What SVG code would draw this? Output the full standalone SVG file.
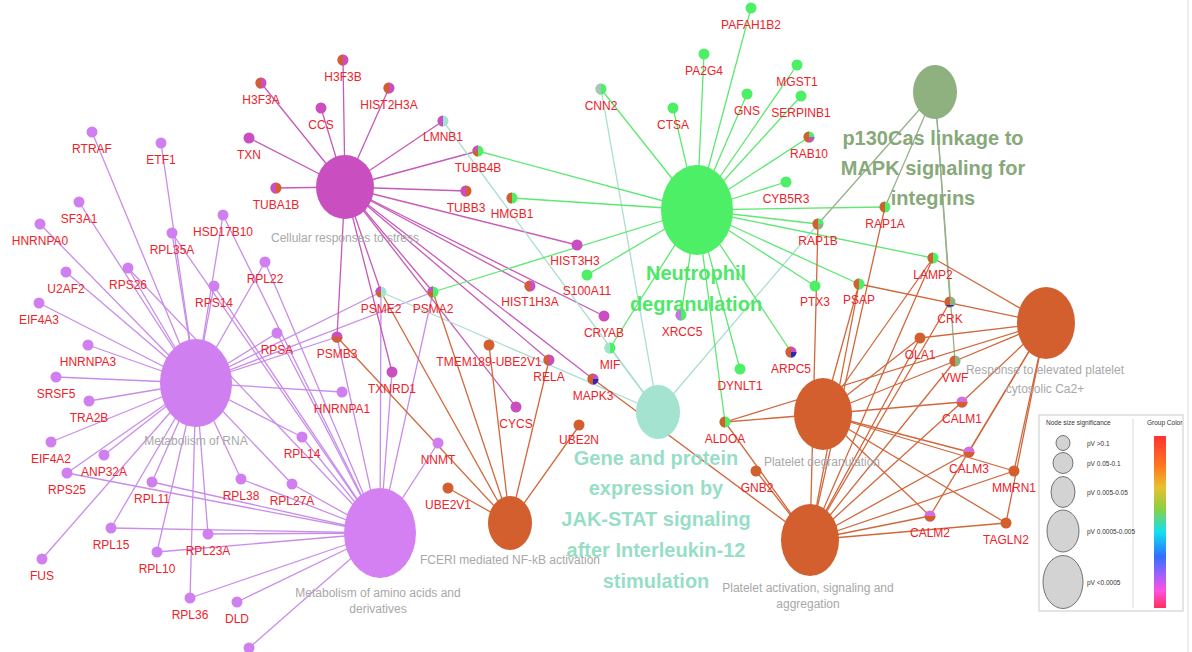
<svg xmlns="http://www.w3.org/2000/svg" width="1192" height="652" viewBox="0 0 1192 652">
<defs>
<linearGradient id="cbar" x1="0" y1="0" x2="0" y2="1">
<stop offset="0" stop-color="#ff3030"/><stop offset="0.18" stop-color="#ff7a20"/><stop offset="0.3" stop-color="#e8c030"/><stop offset="0.42" stop-color="#8ed040"/><stop offset="0.56" stop-color="#10e0f0"/><stop offset="0.7" stop-color="#3070ff"/><stop offset="0.8" stop-color="#9a60ff"/><stop offset="0.9" stop-color="#ff50e0"/><stop offset="1" stop-color="#ff3060"/>
</linearGradient>
</defs>
<style>
.e path{fill:none;stroke-width:1.3}
.cs path{stroke:#c55ab9}
.mr path{stroke:#c98de9}
.nd path{stroke:#5ee872}
.jk path{stroke:#a9ded1}
.pc path{stroke:#98b08b}
.or path{stroke:#d0683c}
.gn text{font-family:"Liberation Sans",Arial,sans-serif;font-size:12px;fill:#ee2229;text-anchor:middle}
.hl{font-family:"Liberation Sans",Arial,sans-serif;font-size:12px;fill:#a8a8a8;text-anchor:middle}
.big{font-family:"Liberation Sans",Arial,sans-serif;font-size:20px;font-weight:bold;text-anchor:middle}
.lg{font-family:"Liberation Sans",Arial,sans-serif;font-size:6.5px;fill:#333}
.M{fill:#c94fc0}.V{fill:#d07ff0}.G{fill:#4def66}.T{fill:#a3e3cf}.S{fill:#8fb07f}.O{fill:#d35f2e}.B{fill:#2a2ab8}.P{fill:#d36ee0}
</style>
<rect width="1192" height="652" fill="#ffffff"/>
<line x1="1188" y1="0" x2="1188" y2="652" stroke="#e6e6e6" stroke-width="1.5"/>

<g id="connectors" class="e">
<g class="mr">
<path d="M196 383L92 132"/><path d="M196 383L161 143"/><path d="M196 383L79 202"/><path d="M196 383L40 224"/><path d="M196 383L172 233"/><path d="M196 383L223 215"/><path d="M196 383L66 272"/><path d="M196 383L128 268"/><path d="M196 383L265 262"/><path d="M196 383L39 303"/><path d="M196 383L214 286"/><path d="M196 383L88 345"/><path d="M196 383L277 333"/><path d="M196 383L56 377"/><path d="M196 383L89 401"/><path d="M196 383L342 392"/><path d="M196 383L337 337"/><path d="M196 383L381 292"/><path d="M196 383L433 292"/><path d="M196 383L51 442"/><path d="M196 383L104 455"/><path d="M196 383L67 473"/><path d="M196 383L152 482"/><path d="M196 383L241 479"/><path d="M196 383L292 484"/><path d="M196 383L302 437"/><path d="M196 383L111 528"/><path d="M196 383L208 534"/><path d="M196 383L157 552"/><path d="M196 383L42 559"/><path d="M196 383L190 598"/>
<path d="M380 533L128 268"/><path d="M380 533L172 233"/><path d="M380 533L223 215"/><path d="M380 533L265 262"/><path d="M380 533L214 286"/><path d="M380 533L277 333"/><path d="M380 533L337 337"/><path d="M380 533L381 292"/><path d="M380 533L433 292"/><path d="M380 533L392 372"/><path d="M380 533L438 443"/><path d="M380 533L302 437"/><path d="M380 533L292 484"/><path d="M380 533L241 479"/><path d="M380 533L67 473"/><path d="M380 533L152 482"/><path d="M380 533L111 528"/><path d="M380 533L208 534"/><path d="M380 533L157 552"/><path d="M380 533L190 598"/><path d="M380 533L237 602"/><path d="M380 533L249 648"/>
</g>
<g class="cs">
<path d="M345 187L261 83"/><path d="M345 187L343 60"/><path d="M345 187L389 88"/><path d="M345 187L321 108"/><path d="M345 187L249 138"/><path d="M345 187L443 121"/><path d="M345 187L276 188"/><path d="M345 187L478 151"/><path d="M345 187L466 191"/><path d="M345 187L577 245"/><path d="M345 187L530 286"/><path d="M345 187L381 292"/><path d="M345 187L433 292"/><path d="M345 187L337 337"/><path d="M345 187L392 372"/><path d="M345 187L549 360"/><path d="M345 187L516 407"/><path d="M345 187L593 379"/><path d="M345 187L604 316"/>
</g>
<g class="jk">
<path d="M658 412L601 89"/><path d="M658 412L443 121"/><path d="M658 412L381 292"/><path d="M658 412L610 348"/><path d="M658 412L818 224"/>
</g>
<g class="nd">
<path d="M697 210L751 8"/><path d="M697 210L704 54"/><path d="M697 210L601 89"/><path d="M697 210L673 108"/><path d="M697 210L747 94"/><path d="M697 210L797 65"/><path d="M697 210L801 96"/><path d="M697 210L809 137"/><path d="M697 210L786 182"/><path d="M697 210L885 207"/><path d="M697 210L818 224"/><path d="M697 210L815 286"/><path d="M697 210L859 284"/><path d="M697 210L933 258"/><path d="M697 210L791 352"/><path d="M697 210L740 369"/><path d="M697 210L725 422"/><path d="M697 210L681 315"/><path d="M697 210L610 348"/><path d="M697 210L587 275"/><path d="M697 210L512 198"/><path d="M697 210L478 151"/><path d="M697 210L433 292"/>
</g>
<g class="pc">
<path d="M935 92L885 207"/><path d="M935 92L818 224"/><path d="M935 92L950 302"/><path d="M935 92L955 361"/>
</g>
<g class="or">
<path d="M510 523L337 337"/><path d="M510 523L381 292"/><path d="M510 523L433 292"/><path d="M510 523L489 345"/><path d="M510 523L549 360"/><path d="M510 523L579 426"/><path d="M510 523L448 488"/>
<path d="M823 414L725 422"/><path d="M823 414L859 284"/><path d="M823 414L933 258"/><path d="M823 414L920 338"/><path d="M823 414L955 361"/><path d="M823 414L962 402"/><path d="M823 414L930 516"/><path d="M823 414L969 452"/><path d="M823 414L1014 471"/><path d="M823 414L1006 523"/>
<path d="M810 540L756 471"/><path d="M810 540L725 422"/><path d="M810 540L593 379"/><path d="M810 540L885 207"/><path d="M810 540L818 224"/><path d="M810 540L950 302"/><path d="M810 540L955 361"/><path d="M810 540L962 402"/><path d="M810 540L930 516"/><path d="M810 540L969 452"/><path d="M810 540L1014 471"/><path d="M810 540L1006 523"/><path d="M810 540L920 338"/><path d="M810 540L859 284"/><path d="M810 540L933 258"/>
<path d="M1046 323L933 258"/><path d="M1046 323L859 284"/><path d="M1046 323L920 338"/><path d="M1046 323L725 422"/><path d="M1046 323L955 361"/><path d="M1046 323L962 402"/><path d="M1046 323L930 516"/><path d="M1046 323L969 452"/><path d="M1046 323L1014 471"/><path d="M1046 323L1006 523"/>
</g>
</g>

<g id="hub-cs"><ellipse cx="345" cy="187" rx="29" ry="32" class="M"/><text class="hl" x="345" y="242">Cellular responses to stress</text></g>
<g id="hub-mr"><ellipse cx="196" cy="383" rx="36" ry="44" class="V"/><text class="hl" x="196" y="445">Metabolism of RNA</text></g>
<g id="hub-maa"><ellipse cx="380" cy="533" rx="36" ry="45" fill="#d480f2"/><text class="hl" x="378" y="597">Metabolism of amino acids and</text><text class="hl" x="378" y="613">derivatives</text></g>
<g id="hub-fc"><ellipse cx="510" cy="523" rx="22" ry="27" class="O"/><text class="hl" x="510" y="564">FCERI mediated NF-kB activation</text></g>
<g id="hub-nd"><ellipse cx="697" cy="210" rx="36" ry="45" class="G"/></g>
<g id="hub-jak"><ellipse cx="658" cy="412" rx="22" ry="27" class="T"/></g>
<g id="hub-p130"><ellipse cx="935" cy="92" rx="22" ry="27" class="S"/></g>
<g id="hub-re"><ellipse cx="1046" cy="323" rx="29" ry="36" class="O"/><text class="hl" x="1045" y="374">Response to elevated platelet</text><text class="hl" x="1045" y="393">cytosolic Ca2+</text></g>
<g id="hub-pd"><ellipse cx="823" cy="414" rx="29" ry="36" class="O"/><text class="hl" x="822" y="466">Platelet degranulation</text></g>
<g id="hub-pa"><ellipse cx="810" cy="540" rx="29" ry="36" class="O"/><text class="hl" x="808" y="592">Platelet activation, signaling and</text><text class="hl" x="808" y="608">aggregation</text></g>

<g id="genes" class="gn">
<g id="g-RTRAF"><circle cx="92" cy="132" r="5.5" class="V"/><text x="92" y="153">RTRAF</text></g>
<g id="g-ETF1"><circle cx="161" cy="143" r="5.5" class="V"/><text x="161" y="164">ETF1</text></g>
<g id="g-SF3A1"><circle cx="79" cy="202" r="5.5" class="V"/><text x="79" y="223">SF3A1</text></g>
<g id="g-HNRNPA0"><circle cx="40" cy="224" r="5.5" class="V"/><text x="40" y="245">HNRNPA0</text></g>
<g id="g-RPL35A"><circle cx="172" cy="233" r="5.5" class="V"/><text x="172" y="254">RPL35A</text></g>
<g id="g-HSD17B10"><circle cx="223" cy="215" r="5.5" class="V"/><text x="223" y="236">HSD17B10</text></g>
<g id="g-U2AF2"><circle cx="66" cy="272" r="5.5" class="V"/><text x="66" y="293">U2AF2</text></g>
<g id="g-RPS26"><circle cx="128" cy="268" r="5.5" class="V"/><text x="128" y="289">RPS26</text></g>
<g id="g-RPL22"><circle cx="265" cy="262" r="5.5" class="V"/><text x="265" y="283">RPL22</text></g>
<g id="g-EIF4A3"><circle cx="39" cy="303" r="5.5" class="V"/><text x="39" y="324">EIF4A3</text></g>
<g id="g-RPS14"><circle cx="214" cy="286" r="5.5" class="V"/><text x="214" y="307">RPS14</text></g>
<g id="g-HNRNPA3"><circle cx="88" cy="345" r="5.5" class="V"/><text x="88" y="366">HNRNPA3</text></g>
<g id="g-RPSA"><circle cx="277" cy="333" r="5.5" class="V"/><text x="277" y="354">RPSA</text></g>
<g id="g-SRSF5"><circle cx="56" cy="377" r="5.5" class="V"/><text x="56" y="398">SRSF5</text></g>
<g id="g-TRA2B"><circle cx="89" cy="401" r="5.5" class="V"/><text x="89" y="422">TRA2B</text></g>
<g id="g-HNRNPA1"><circle cx="342" cy="392" r="5.5" class="V"/><text x="342" y="413">HNRNPA1</text></g>
<g id="g-EIF4A2"><circle cx="51" cy="442" r="5.5" class="V"/><text x="51" y="463">EIF4A2</text></g>
<g id="g-ANP32A"><circle cx="104" cy="455" r="5.5" class="V"/><text x="104" y="476">ANP32A</text></g>
<g id="g-RPS25"><circle cx="67" cy="473" r="5.5" class="V"/><text x="67" y="494">RPS25</text></g>
<g id="g-RPL11"><circle cx="152" cy="482" r="5.5" class="V"/><text x="152" y="503">RPL11</text></g>
<g id="g-RPL38"><circle cx="241" cy="479" r="5.5" class="V"/><text x="241" y="500">RPL38</text></g>
<g id="g-RPL27A"><circle cx="292" cy="484" r="5.5" class="V"/><text x="292" y="505">RPL27A</text></g>
<g id="g-RPL14"><circle cx="302" cy="437" r="5.5" class="V"/><text x="302" y="458">RPL14</text></g>
<g id="g-RPL15"><circle cx="111" cy="528" r="5.5" class="V"/><text x="111" y="549">RPL15</text></g>
<g id="g-RPL23A"><circle cx="208" cy="534" r="5.5" class="V"/><text x="208" y="555">RPL23A</text></g>
<g id="g-RPL10"><circle cx="157" cy="552" r="5.5" class="V"/><text x="157" y="573">RPL10</text></g>
<g id="g-FUS"><circle cx="42" cy="559" r="5.5" class="V"/><text x="42" y="580">FUS</text></g>
<g id="g-RPL36"><circle cx="190" cy="598" r="5.5" class="V"/><text x="190" y="619">RPL36</text></g>
<g id="g-DLD"><circle cx="237" cy="602" r="5.5" class="V"/><text x="237" y="623">DLD</text></g>
<g id="g-bottom"><circle cx="249" cy="648" r="5.5" class="V"/></g>
<g id="g-NNMT"><circle cx="438" cy="443" r="5.5" class="V"/><text x="438" y="464">NNMT</text></g>

<g id="g-H3F3A"><circle cx="261" cy="83" r="5.5" class="M"/><path class="O" d="M261 77.5A5.5 5.5 0 0 0 261 88.5Z"/><text x="261" y="104">H3F3A</text></g>
<g id="g-H3F3B"><circle cx="343" cy="60" r="5.5" class="M"/><path class="O" d="M343 54.5A5.5 5.5 0 0 0 343 65.5Z"/><text x="343" y="81">H3F3B</text></g>
<g id="g-HIST2H3A"><circle cx="389" cy="88" r="5.5" class="M"/><path class="O" d="M389 82.5A5.5 5.5 0 0 0 389 93.5Z"/><text x="389" y="109">HIST2H3A</text></g>
<g id="g-CCS"><circle cx="321" cy="108" r="5.5" class="M"/><text x="321" y="129">CCS</text></g>
<g id="g-TXN"><circle cx="249" cy="138" r="5.5" class="M"/><text x="249" y="159">TXN</text></g>
<g id="g-LMNB1"><circle cx="443" cy="121" r="5.5" class="T"/><path class="M" d="M443 115.5A5.5 5.5 0 0 0 443 126.5Z"/><text x="443" y="141">LMNB1</text></g>
<g id="g-TUBA1B"><circle cx="276" cy="188" r="5.5" class="O"/><path class="M" d="M276 182.5A5.5 5.5 0 0 0 276 193.5Z"/><text x="276" y="209">TUBA1B</text></g>
<g id="g-TUBB4B"><circle cx="478" cy="151" r="5.5" class="G"/><path class="O" d="M478 145.5A5.5 5.5 0 0 0 478 156.5Z"/><path class="M" d="M478 151L472.5 151A5.5 5.5 0 0 1 478 145.5Z"/><text x="478" y="172">TUBB4B</text></g>
<g id="g-TUBB3"><circle cx="466" cy="191" r="5.5" class="O"/><path class="M" d="M466 185.5A5.5 5.5 0 0 0 466 196.5Z"/><text x="466" y="212">TUBB3</text></g>
<g id="g-HMGB1"><circle cx="512" cy="198" r="5.5" class="G"/><path class="O" d="M512 192.5A5.5 5.5 0 0 0 512 203.5Z"/><text x="512" y="218">HMGB1</text></g>
<g id="g-HIST3H3"><circle cx="577" cy="245" r="5.5" class="M"/><text x="575" y="265">HIST3H3</text></g>
<g id="g-S100A11"><circle cx="587" cy="275" r="5.5" class="G"/><text x="587" y="295">S100A11</text></g>
<g id="g-HIST1H3A"><circle cx="530" cy="286" r="5.5" class="M"/><path class="O" d="M530 280.5A5.5 5.5 0 0 0 530 291.5Z"/><text x="530" y="306">HIST1H3A</text></g>
<g id="g-PSME2"><circle cx="381" cy="292" r="5.5" class="T"/><path class="O" d="M381 286.5A5.5 5.5 0 0 0 381 297.5Z"/><path class="M" d="M381 292L375.5 292A5.5 5.5 0 0 1 381 286.5Z"/><text x="381" y="313">PSME2</text></g>
<g id="g-PSMA2"><circle cx="433" cy="292" r="5.5" class="G"/><path class="O" d="M433 286.5A5.5 5.5 0 0 0 433 297.5Z"/><path class="M" d="M433 292L427.5 292A5.5 5.5 0 0 1 433 286.5Z"/><text x="433" y="313">PSMA2</text></g>
<g id="g-PSMB3"><circle cx="337" cy="337" r="5.5" class="M"/><path class="O" d="M331.5 337A5.5 5.5 0 0 0 342.5 337Z"/><text x="337" y="358">PSMB3</text></g>
<g id="g-TMEM189-UBE2V1"><circle cx="489" cy="345" r="5.5" class="O"/><text x="489" y="366">TMEM189-UBE2V1</text></g>
<g id="g-RELA"><circle cx="549" cy="360" r="5.5" class="M"/><path class="O" d="M549 354.5A5.5 5.5 0 0 0 549 365.5Z"/><text x="549" y="381">RELA</text></g>
<g id="g-TXNRD1"><circle cx="392" cy="372" r="5.5" class="M"/><text x="392" y="393">TXNRD1</text></g>
<g id="g-CYCS"><circle cx="516" cy="407" r="5.5" class="M"/><text x="516" y="428">CYCS</text></g>
<g id="g-MAPK3"><circle cx="593" cy="379" r="5.5" class="M"/><path class="O" d="M593 373.5A5.5 5.5 0 0 0 593 384.5Z"/><path class="B" d="M593 379L598.5 379A5.5 5.5 0 0 1 593 384.5Z"/><text x="593" y="400">MAPK3</text></g>
<g id="g-CRYAB"><circle cx="604" cy="316" r="5.5" class="M"/><text x="604" y="337">CRYAB</text></g>
<g id="g-MIF"><circle cx="610" cy="348" r="5.5" class="G"/><path class="T" d="M610 342.5A5.5 5.5 0 0 0 610 353.5Z"/><text x="610" y="369">MIF</text></g>
<g id="g-XRCC5"><circle cx="681" cy="315" r="5.5" class="G"/><path fill="#c874e6" d="M681 309.5A5.5 5.5 0 0 0 681 320.5Z"/><text x="682" y="336">XRCC5</text></g>
<g id="g-UBE2N"><circle cx="579" cy="425" r="5.5" class="O"/><text x="579" y="444">UBE2N</text></g>
<g id="g-UBE2V1"><circle cx="448" cy="488" r="5.5" class="O"/><text x="448" y="509">UBE2V1</text></g>

<g id="g-PAFAH1B2"><circle cx="751" cy="8" r="5.5" class="G"/><text x="751" y="29">PAFAH1B2</text></g>
<g id="g-PA2G4"><circle cx="704" cy="54" r="5.5" class="G"/><text x="704" y="75">PA2G4</text></g>
<g id="g-CNN2"><circle cx="601" cy="89" r="5.5" class="G"/><path fill="#a8c4bc" d="M601 83.5A5.5 5.5 0 0 0 601 94.5Z"/><text x="601" y="110">CNN2</text></g>
<g id="g-CTSA"><circle cx="673" cy="108" r="5.5" class="G"/><text x="673" y="129">CTSA</text></g>
<g id="g-GNS"><circle cx="747" cy="94" r="5.5" class="G"/><text x="747" y="115">GNS</text></g>
<g id="g-MGST1"><circle cx="797" cy="65" r="5.5" class="G"/><text x="797" y="86">MGST1</text></g>
<g id="g-SERPINB1"><circle cx="801" cy="96" r="5.5" class="G"/><text x="801" y="117">SERPINB1</text></g>
<g id="g-RAB10"><circle cx="809" cy="137" r="5.5" class="G"/><path class="O" d="M809 131.5A5.5 5.5 0 0 0 809 142.5Z"/><path class="M" d="M809 137L814.5 137A5.5 5.5 0 0 1 809 142.5Z"/><text x="809" y="158">RAB10</text></g>
<g id="g-CYB5R3"><circle cx="786" cy="182" r="5.5" class="G"/><text x="786" y="203">CYB5R3</text></g>
<g id="g-RAP1A"><circle cx="885" cy="207" r="5.5" class="G"/><path class="O" d="M885 201.5A5.5 5.5 0 0 0 885 212.5Z"/><text x="885" y="228">RAP1A</text></g>
<g id="g-RAP1B"><circle cx="818" cy="224" r="5.5" class="S"/><path class="O" d="M818 218.5A5.5 5.5 0 0 0 818 229.5Z"/><path class="G" d="M818 224L818 218.5A5.5 5.5 0 0 1 823.5 224Z"/><text x="818" y="245">RAP1B</text></g>
<g id="g-PTX3"><circle cx="815" cy="286" r="5.5" class="G"/><text x="815" y="306">PTX3</text></g>
<g id="g-PSAP"><circle cx="859" cy="284" r="5.5" class="G"/><path class="O" d="M859 278.5A5.5 5.5 0 0 0 859 289.5Z"/><text x="859" y="304">PSAP</text></g>
<g id="g-LAMP2"><circle cx="933" cy="258" r="5.5" class="G"/><path class="O" d="M933 252.5A5.5 5.5 0 0 0 933 263.5Z"/><text x="933" y="279">LAMP2</text></g>
<g id="g-CRK"><circle cx="950" cy="302" r="5.5" class="S"/><path class="O" d="M950 296.5A5.5 5.5 0 0 0 950 307.5Z"/><path class="B" d="M945.5 305A5.5 4 0 0 0 954.5 305Z"/><text x="950" y="323">CRK</text></g>
<g id="g-OLA1"><circle cx="920" cy="338" r="5.5" class="O"/><text x="920" y="359">OLA1</text></g>
<g id="g-VWF"><circle cx="955" cy="361" r="5.5" class="S"/><path class="O" d="M955 355.5A5.5 5.5 0 0 0 955 366.5Z"/><text x="955" y="382">VWF</text></g>
<g id="g-ARPC5"><circle cx="791" cy="352" r="5.5" class="M"/><path class="O" d="M791 346.5A5.5 5.5 0 0 0 791 357.5Z"/><path class="B" d="M791 352L796.5 352A5.5 5.5 0 0 1 791 357.5Z"/><text x="791" y="373">ARPC5</text></g>
<g id="g-DYNLT1"><circle cx="740" cy="369" r="5.5" class="G"/><text x="740" y="390">DYNLT1</text></g>
<g id="g-ALDOA"><circle cx="725" cy="422" r="5.5" class="G"/><path class="O" d="M725 416.5A5.5 5.5 0 0 0 725 427.5Z"/><text x="725" y="443">ALDOA</text></g>
<g id="g-GNB2"><circle cx="756" cy="471" r="5.5" class="O"/><text x="757" y="492">GNB2</text></g>
<g id="g-CALM1"><circle cx="962" cy="402" r="5.5" class="P"/><path class="O" d="M956.5 402A5.5 5.5 0 0 0 967.5 402Z"/><text x="962" y="423">CALM1</text></g>
<g id="g-CALM3"><circle cx="969" cy="452" r="5.5" class="P"/><path class="O" d="M963.5 452A5.5 5.5 0 0 0 974.5 452Z"/><text x="969" y="473">CALM3</text></g>
<g id="g-MMRN1"><circle cx="1014" cy="471" r="5.5" class="O"/><text x="1014" y="492">MMRN1</text></g>
<g id="g-CALM2"><circle cx="930" cy="516" r="5.5" class="P"/><path class="O" d="M924.5 516A5.5 5.5 0 0 0 935.5 516Z"/><text x="930" y="537">CALM2</text></g>
<g id="g-TAGLN2"><circle cx="1006" cy="523" r="5.5" class="O"/><text x="1006" y="544">TAGLN2</text></g>
</g>

<g id="group-labels">
<text class="big" fill="#4ee868" x="696" y="280">Neutrophil</text>
<text class="big" fill="#4ee868" x="696" y="311">degranulation</text>
<text class="big" fill="#87a979" x="933" y="145">p130Cas linkage to</text>
<text class="big" fill="#87a979" x="933" y="175">MAPK signaling for</text>
<text class="big" fill="#87a979" x="933" y="205">integrins</text>
<g fill="#8fdcc2" fill-opacity="0.95">
<text class="big" x="656" y="465">Gene and protein</text>
<text class="big" x="656" y="495">expression by</text>
<text class="big" x="656" y="526">JAK-STAT signaling</text>
<text class="big" x="656" y="557">after Interleukin-12</text>
<text class="big" x="656" y="588">stimulation</text>
</g>
</g>

<g id="legend">
<rect x="1039" y="415" width="144" height="196" fill="#ffffff" stroke="#dcdcdc" stroke-width="1.5"/>
<line x1="1133" y1="419" x2="1133" y2="608" stroke="#d0d0d0" stroke-width="0.8"/>
<text class="lg" x="1046" y="425">Node size significance</text>
<text class="lg" x="1147" y="425">Group Color</text>
<g fill="#d3d3d3" stroke="#555" stroke-width="0.8">
<ellipse cx="1063" cy="443" rx="7" ry="7.5"/>
<ellipse cx="1063" cy="463" rx="10" ry="10.5"/>
<ellipse cx="1063" cy="492" rx="12" ry="15.5"/>
<ellipse cx="1063" cy="531" rx="16" ry="21"/>
<ellipse cx="1063" cy="582" rx="20" ry="26.5"/>
</g>
<text class="lg" x="1087" y="446">pV &gt;0.1</text>
<text class="lg" x="1087" y="466">pV 0.05-0.1</text>
<text class="lg" x="1087" y="495">pV 0.005-0.05</text>
<text class="lg" x="1087" y="534">pV 0.0005-0.005</text>
<text class="lg" x="1087" y="585">pV &lt;0.0005</text>
<rect x="1154" y="436" width="12" height="172" fill="url(#cbar)"/>
</g>
</svg>
